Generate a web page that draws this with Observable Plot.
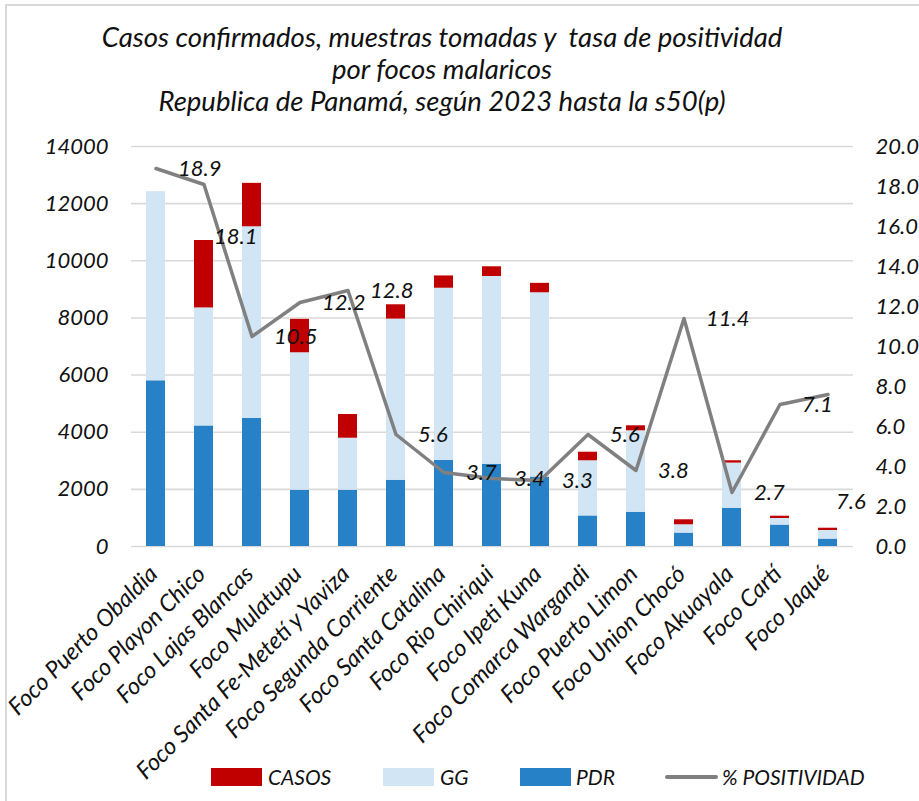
<!DOCTYPE html>
<html><head><meta charset="utf-8">
<script src="https://cdn.jsdelivr.net/npm/d3@7"></script>
<script src="https://cdn.jsdelivr.net/npm/@observablehq/plot@0.6"></script>
<style>
body{margin:0;background:#fff;}
#wrap{position:relative;width:919px;height:801px;overflow:hidden;font-family:Lato,"Open Sans",sans-serif;font-style:italic;color:#111;}
#frame{position:absolute;left:5px;top:4px;right:-5px;bottom:-5px;border-left:2px solid #d9d9d9;border-top:2px solid #d9d9d9;}
#title{position:absolute;left:0;top:21px;width:884px;text-align:center;font-size:27.5px;line-height:32px;}
#chart{position:absolute;left:0;top:125px;}
.lg{position:absolute;top:768px;height:18px;}
.lt{position:absolute;top:764px;font-size:21px;line-height:26px;}
</style></head>
<body><div id="wrap"><div id="frame"></div>
<div id="title">Casos confirmados, muestras tomadas y&nbsp; tasa de positividad<br>por focos malaricos<br>Republica de Panamá, según 2023 hasta la s50(p)</div>
<div id="chart"></div><div id="legend"></div></div>
<script>
const categories = ["Foco Puerto Obaldia","Foco Playon Chico","Foco Lajas Blancas","Foco Mulatupu","Foco Santa Fe-Metetí y Yaviza","Foco Segunda Corriente","Foco Santa Catalina","Foco Rio Chiriqui","Foco Ipeti Kuna","Foco Comarca Wargandi","Foco Puerto Limon","Foco Union Chocó","Foco Akuayala","Foco Cartí","Foco Jaqué"];
const pdr   = [5800,4220,4480,1970,1970,2320,3010,2880,2430,1070,1200,470,1340,750,260];
const gg    = [6620,4130,6710,4810,1820,5640,6030,6570,6450,1930,2850,290,1580,230,300];
const casos = [0,2360,1520,1170,830,500,430,340,330,300,175,175,80,80,80];
const positividad = [18.9,18.1,10.5,12.2,12.8,5.6,3.7,3.4,3.3,5.6,3.8,11.4,2.7,7.1,7.6];
const leftTicks = [0,2000,4000,6000,8000,10000,12000,14000];
const rightTicks = [0,2,4,6,8,10,12,14,16,18,20];
const seriesNames = ["CASOS","GG","PDR"];
const seriesColors = ["#C00000","#D2E5F5","#2781C6"];
const lineName = "% POSITIVIDAD";
const lineColor = "#808080";

const ratio = 14000 / 20;
const long = [];
categories.forEach((c, i) => {
  long.push({name: c, series: "PDR", value: pdr[i]});
  long.push({name: c, series: "GG", value: gg[i]});
  long.push({name: c, series: "CASOS", value: casos[i]});
});
const lineData = categories.map((c, i) => ({name: c, pct: positividad[i]}));
const moved = {"Foco Playon Chico": [10, 52], "Foco Jaqué": [8, 107]};
const normalLabels = lineData.filter(d => !moved[d.name]);
const font = {fontFamily: "Lato, 'Open Sans', sans-serif", fontStyle: "italic", fontVariant: "normal"};

const marks = [
  Plot.gridY(leftTicks, {stroke: "#D9D9D9", strokeOpacity: 1, strokeWidth: 1.6}),
  Plot.barY(long, {x: "name", y: "value", fill: "series", order: ["PDR","GG","CASOS"], inset: 0}),
  Plot.line(lineData, {x: "name", y: d => d.pct * ratio, stroke: lineColor, strokeWidth: 3.5}),
  Plot.text(normalLabels, {x: "name", y: d => d.pct * ratio, text: d => d.pct.toFixed(1), textAnchor: "start", dx: 22, fontSize: 22, fill: "#111", ...font}),
  ...Object.entries(moved).map(([n, [dx, dy]]) =>
    Plot.text(lineData.filter(d => d.name === n), {x: "name", y: d => d.pct * ratio, text: d => d.pct.toFixed(1), textAnchor: "start", dx, dy, fontSize: 22, fill: "#111", ...font})),
  Plot.axisY(leftTicks, {anchor: "left", label: null, tickSize: 0, tickPadding: 23, tickFormat: d => String(d), fontSize: 22, fill: "#111", ...font}),
  Plot.axisY(rightTicks.map(v => v * ratio), {anchor: "right", label: null, tickSize: 0, tickPadding: 22, tickFormat: d => (d / ratio).toFixed(1), fontSize: 22, fill: "#111", textAnchor: "start", ...font}),
  Plot.text(categories, {x: d => d, frameAnchor: "bottom", rotate: -45, textAnchor: "end", dx: 3, dy: 29, fontSize: 23.5, fill: "#111", text: d => d, ...font})
];

const chart = Plot.plot({
  width: 919, height: 635,
  marginLeft: 131, marginRight: 66, marginTop: 21, marginBottom: 214,
  style: {fontFamily: "Lato, 'Open Sans', sans-serif", fontStyle: "italic", fontSize: "21px", background: "transparent", overflow: "visible"},
  x: {domain: categories, paddingInner: 0.6, paddingOuter: 0.3, axis: null},
  y: {domain: [0, 14000], axis: null},
  color: {domain: seriesNames, range: seriesColors},
  marks
});
document.getElementById("chart").appendChild(chart);

// legend
const legend = document.getElementById("legend");
const swX = [211, 383, 520];
const txX = [268, 440, 576];
seriesNames.forEach((s, i) => {
  const sw = document.createElement("div");
  sw.className = "lg";
  sw.style.left = swX[i] + "px"; sw.style.width = "51px"; sw.style.background = seriesColors[i];
  legend.appendChild(sw);
  const t = document.createElement("div");
  t.className = "lt"; t.style.left = txX[i] + "px"; t.textContent = s;
  legend.appendChild(t);
});
const ln = document.createElement("div");
ln.style.cssText = `position:absolute;left:665px;top:775px;width:53px;height:4px;background:${lineColor};border-radius:2px;`;
legend.appendChild(ln);
const lt = document.createElement("div");
lt.className = "lt"; lt.style.left = "722px"; lt.textContent = lineName;
legend.appendChild(lt);
</script></body></html>
